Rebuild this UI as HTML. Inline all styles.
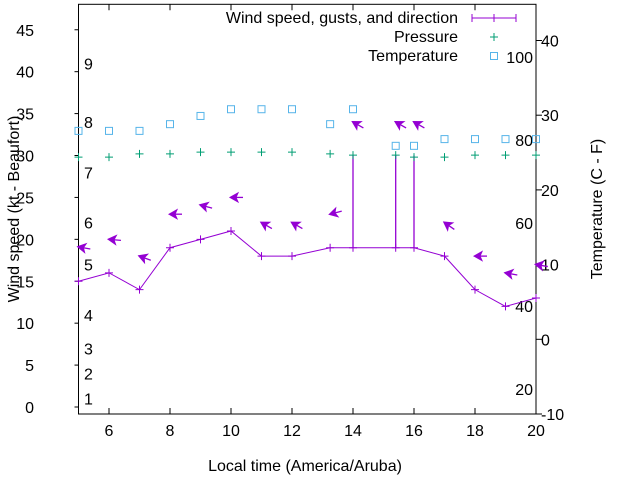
<!DOCTYPE html>
<html><head><meta charset="utf-8"><style>
body{margin:0;background:#fff}
svg text{font-family:"Liberation Sans",sans-serif;font-size:16px;fill:#000}
</style></head><body>
<svg width="640" height="480" viewBox="0 0 640 480">
<g id="g"></g>
</svg>
<script>
const times=[5,6,7,8,9,10,11,12,13.25,14,15.4,16,17,18,19,20];
const windSpeed=[15,16,14,19,20,21,18,18,19,19,19,19,18,14,12,13];
const gustTimes=[14,15.4,16];
const gustVals=[30,30,30];
const arrowHeights=[19.1,20,18,23,24.1,25,22,22,23,34,34,34,22,18,16,17];
const windDir=[100,95,110,90,105,90,120,120,75,120,120,120,125,90,100,100];
const pressure=[29.8,29.8,30.2,30.2,30.4,30.4,30.4,30.4,30.2,30.05,30.05,29.8,29.8,30.05,30.05,30.05];
const temperature=[27.9,27.9,27.9,28.8,29.9,30.8,30.8,30.8,28.8,30.8,25.9,25.9,26.8,26.8,26.8,26.8];
const xTicks=[6,8,10,12,14,16,18,20];
const yTicks=[0,5,10,15,20,25,30,35,40,45];
const y2Ticks=[-10,0,10,20,30,40];
const beaufort=[[1,1],[2,4],[3,7],[4,11],[5,17],[6,22],[7,28],[8,34],[9,41]];
const fahr=[20,40,60,80,100];

const L=78.5,R=536,T=4.3,B=414;
const X=t=>L+(t-5)*(R-L)/15;
const Y=v=>407-v*8.383;
const Y2=v=>414-(v+10)*7.47;
const NS="http://www.w3.org/2000/svg";
const g=document.getElementById('g');
function mk(tag,at,name,txt){const e=document.createElementNS(NS,tag);for(const k in at)e.setAttribute(k,at[k]);


if(txt!==undefined)e.textContent=txt;g.appendChild(e);return e;}
const P='#9400d3',G='#009e73',C='#56b4e9';
mk('rect',{x:L,y:T,width:R-L,height:B-T,fill:'none',stroke:'#000','stroke-width':1},'plot-frame');
xTicks.forEach(t=>{mk('line',{x1:X(t),x2:X(t),y1:B,y2:B-6,stroke:'#000'},'x-tick');mk('line',{x1:X(t),x2:X(t),y1:T,y2:T+6,stroke:'#000'},'x-tick-top');
mk('text',{x:X(t),y:B+22,'text-anchor':'middle'},'x-tick-label',t);});
yTicks.forEach(v=>{mk('line',{x1:L-4,x2:L,y1:Y(v),y2:Y(v),stroke:'#000'},'y-tick');
mk('text',{x:34,y:Y(v)+6,'text-anchor':'end'},'y-tick-label',v);});
y2Ticks.forEach(v=>{mk('line',{x1:R,x2:R+6,y1:Y2(v),y2:Y2(v),stroke:'#000'},'y2-tick');
mk('text',{x:541,y:Y2(v)+6},'y2-tick-label',v);});
beaufort.forEach(b=>mk('text',{x:84,y:Y(b[1])+6},'beaufort-label',b[0]));
fahr.forEach(f=>{const c=(f-32)*5/9;mk('text',{x:533,y:Y2(c)+6,'text-anchor':'end'},'fahrenheit-label',f);});
mk('text',{x:305,y:471,'text-anchor':'middle'},'x-axis-title','Local time (America/Aruba)');
mk('text',{x:0,y:0,'text-anchor':'middle',transform:'translate(19,209) rotate(-90)'},'y-axis-title','Wind speed (kt - Beaufort)');
mk('text',{x:0,y:0,'text-anchor':'middle',transform:'translate(602,209) rotate(-90)'},'y2-axis-title','Temperature (C - F)');
mk('polyline',{points:times.map((t,i)=>X(t)+','+Y(windSpeed[i])).join(' '),fill:'none',stroke:P,'stroke-width':1},'wind-speed-line');
times.forEach((t,i)=>{const x=X(t),y=Y(windSpeed[i]);mk('path',{d:`M${x-4} ${y}H${x+4}M${x} ${y-4}V${y+4}`,stroke:P},'wind-point');});
gustTimes.forEach((t,i)=>{mk('line',{x1:X(t),x2:X(t),y1:Y(19),y2:Y(gustVals[i]),stroke:P,'stroke-width':1.3},'gust-bar');});
times.forEach((t,i)=>{const x=X(t),y=Y(arrowHeights[i]);const a=windDir[i]*Math.PI/180;
const dx=Math.sin(a),dy=-Math.cos(a);const tx=x+dx*12,ty=y+dy*12;
mk('line',{x1:x,y1:y,x2:tx,y2:ty,stroke:P,'stroke-width':1.3},'direction-arrow-shaft');
const px=-dy,py=dx;
mk('polygon',{points:`${x-dx*1},${y-dy*1} ${x+dx*7+px*4.5},${y+dy*7+py*4.5} ${x+dx*5},${y+dy*5} ${x+dx*7-px*4.5},${y+dy*7-py*4.5}`,fill:P,stroke:P,'stroke-width':1},'direction-arrow-head');});
times.forEach((t,i)=>{const x=X(t),y=Y(pressure[i]);mk('path',{d:`M${x-4} ${y}H${x+4}M${x} ${y-4}V${y+4}`,stroke:G},'pressure-point');});
times.forEach((t,i)=>{const x=X(t),y=Y2(temperature[i]);mk('rect',{x:x-3.5,y:y-3.5,width:7,height:7,fill:'none',stroke:C},'temperature-point');});
mk('text',{x:458,y:23,'text-anchor':'end'},'legend-wind-label','Wind speed, gusts, and direction');
mk('path',{d:'M472 18H516M472 14V22M494 14V22M516 14V22',stroke:P,fill:'none'},'legend-wind-sample');
mk('text',{x:458,y:42,'text-anchor':'end'},'legend-pressure-label','Pressure');
mk('path',{d:'M490 37H498M494 33V41',stroke:G},'legend-pressure-sample');
mk('text',{x:458,y:61,'text-anchor':'end'},'legend-temperature-label','Temperature');
mk('rect',{x:490.5,y:52.5,width:7,height:7,fill:'none',stroke:C},'legend-temperature-sample');
</script>
</body></html>
